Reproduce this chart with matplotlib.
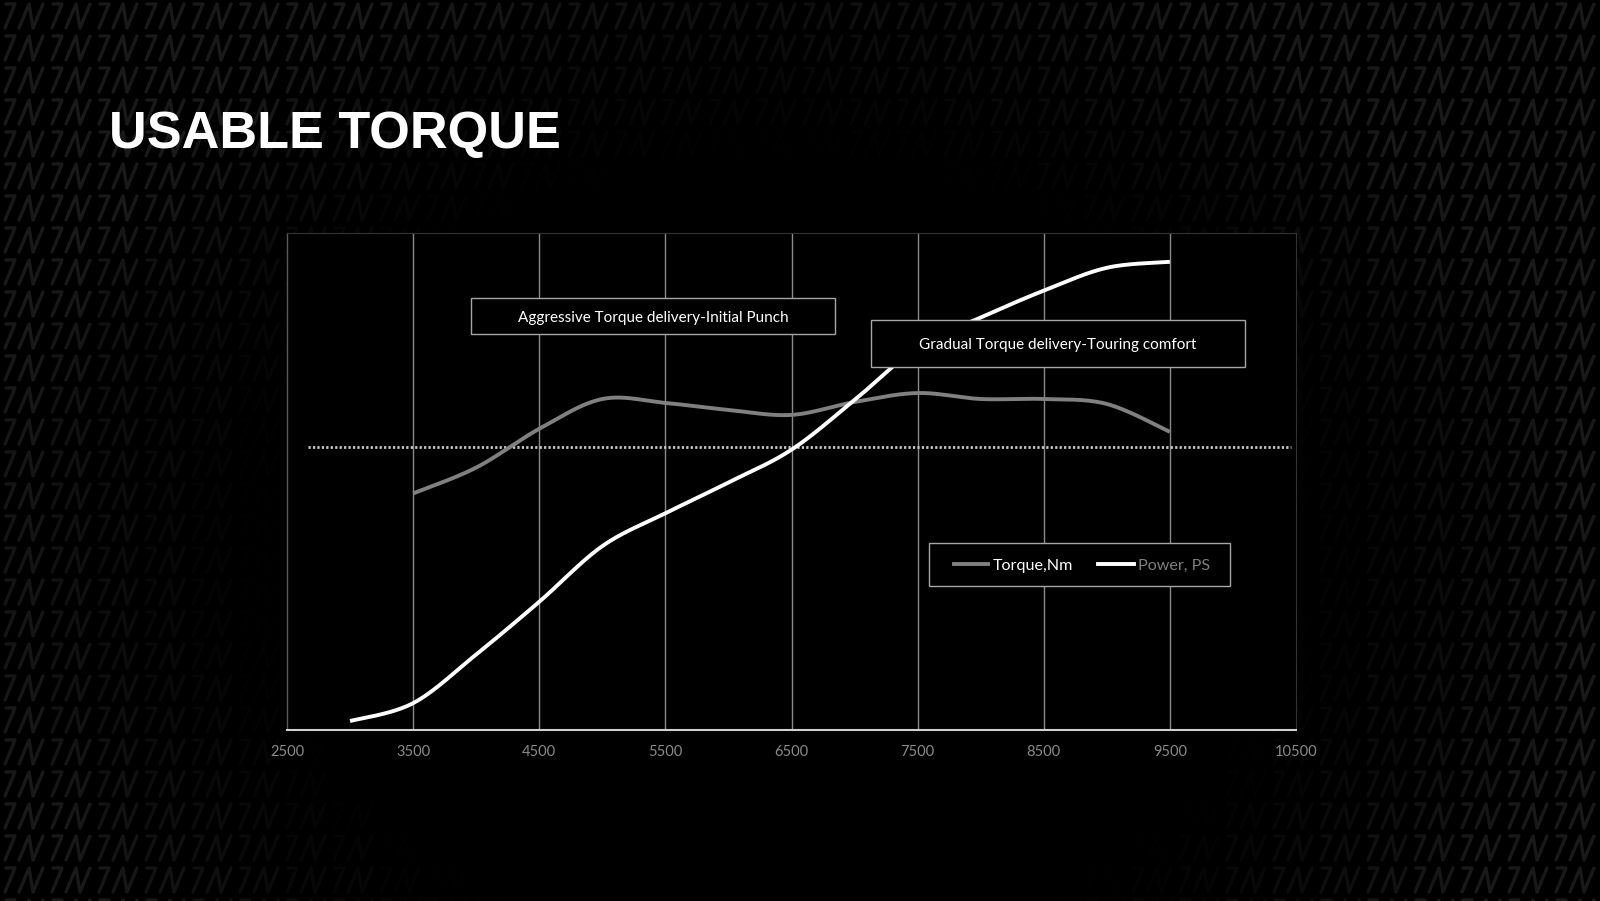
import numpy as np
import matplotlib
matplotlib.use("Agg")
import matplotlib.pyplot as plt
from matplotlib.collections import LineCollection
from matplotlib.patches import Rectangle
from matplotlib.lines import Line2D

# ---------------- data ----------------
power_rpm = [3000, 3500, 4000, 4500, 5000, 5500, 6000, 6500, 7000, 7500, 8000, 8500, 9000, 9500]
power_ps = [0.9, 2.7, 7.6, 12.9, 18.5, 21.8, 24.9, 28.2, 33.2, 38.5, 41.5, 44.2, 46.5, 47.1]

torque_rpm = [3500, 4000, 4500, 5000, 5500, 6000, 6500, 7000, 7500, 8000, 8500, 9000, 9500]
torque_nm = [23.8, 26.4, 30.3, 33.3, 32.9, 32.2, 31.7, 33.0, 33.9, 33.3, 33.3, 32.8, 30.0]

ref_level = 28.5
ref_span = [2667, 10460]

x_ticks = [2500, 3500, 4500, 5500, 6500, 7500, 8500, 9500, 10500]
x_tick_labels = ["2500", "3500", "4500", "5500", "6500", "7500", "8500", "9500", "10500"]

title = "USABLE TORQUE"
note_left = "Aggressive Torque delivery-Initial Punch"
note_right = "Gradual Torque delivery-Touring comfort"
series_names = ["Torque,Nm", "Power, PS"]

# ---------------- helpers ----------------
def smooth(x, y, n=40):
    pts = np.column_stack([np.asarray(x, float), np.asarray(y, float)])
    P = np.vstack([pts[0], pts, pts[-1]])
    out = []
    t = np.linspace(0, 1, n)[:, None]
    for i in range(len(pts) - 1):
        p0, p1, p2, p3 = P[i], P[i + 1], P[i + 2], P[i + 3]
        c1 = p1 + (p2 - p0) / 6.0
        c2 = p2 - (p3 - p1) / 6.0
        seg = (1 - t) ** 3 * p1 + 3 * (1 - t) ** 2 * t * c1 + 3 * (1 - t) * t ** 2 * c2 + t ** 3 * p2
        out.append(seg if i == 0 else seg[1:])
    s = np.vstack(out)
    return s[:, 0], s[:, 1]

W, H = 1600, 901
fig = plt.figure(figsize=(W / 100, H / 100), dpi=100, facecolor="black")

# ---------------- background pattern ----------------
bg = fig.add_axes([0, 0, 1, 1], zorder=-10)
bg.set_xlim(0, W)
bg.set_ylim(H, 0)
bg.axis("off")
bg.set_facecolor("black")
segs, cols = [], []
cw, ch, g = 47, 32, 24
for r in range(-1, 30):
    for c in range(-1, 36):
        x0 = c * cw + 2
        y0 = r * ch + 4
        cx, cy = x0 + 22, y0 + 12
        inten = ((cx - 780) / 650.0) ** 2 + ((cy - 560) / 510.0) ** 2 - 0.62
        inten = min(max(inten * 1.1, 0.0), 1.0)
        if inten <= 0:
            continue
        gv = 0.098 * inten
        top, bot = y0, y0 + g
        seven = [(x0 + 4, top), (x0 + 13, top), (x0 + 3, bot)]
        enn = [(x0 + 17, bot), (x0 + 27, top), (x0 + 31, bot), (x0 + 41, top)]
        segs.append(seven)
        segs.append(enn)
        cols.append((gv, gv, gv))
        cols.append((gv, gv, gv))
bg.add_collection(LineCollection(segs, colors=cols, linewidths=2.4, capstyle="round", joinstyle="round"))

# ---------------- main axes ----------------
L, R, T, B = 287, 1296, 233, 730
ax = fig.add_axes([L / W, 1 - B / H, (R - L) / W, (B - T) / H])
ax.set_facecolor("black")
ax.set_xlim(2500, 10500)
ax.set_ylim(0, 50)

for xv in x_ticks[1:-1]:
    ax.axvline(xv, color="#8a8a8a", lw=1.0, zorder=1)

ax.spines["bottom"].set_color("#d0d0d0")
ax.spines["bottom"].set_linewidth(1.5)
ax.spines["left"].set_color("#5a5a5a")
ax.spines["left"].set_linewidth(1.0)
ax.spines["top"].set_color("#333333")
ax.spines["right"].set_color("#333333")
ax.set_yticks([])
ax.set_xticks(x_ticks)
ax.set_xticklabels(x_tick_labels)
ax.tick_params(axis="x", length=0, pad=11, colors="#8a8a8a", labelsize=10.5)
for lab in ax.get_xticklabels():
    lab.set_family("Lato")

ax.plot(ref_span, [ref_level, ref_level], color="#c8c8c8", lw=2.0,
        linestyle=(0, (0.8, 0.8)), zorder=2)

tx, ty = smooth(torque_rpm, torque_nm)
ax.plot(tx, ty, color="#808080", lw=2.8, solid_capstyle="butt", zorder=3)
px, py = smooth(power_rpm, power_ps)
ax.plot(px, py, color="white", lw=2.8, solid_capstyle="butt", zorder=4)

def axc(xp, yp):
    return (xp - L) / (R - L), (B - yp) / (B - T)

def note_box(x0p, y0p, x1p, y1p, text):
    ax0, ay1 = axc(x0p, y0p)
    ax1, ay0 = axc(x1p, y1p)
    ax.add_patch(Rectangle((ax0, ay0), ax1 - ax0, ay1 - ay0, transform=ax.transAxes,
                           facecolor="black", edgecolor="#a6a6a6", lw=1.0, zorder=6))
    cy = axc(0, (y0p + y1p) / 2 + 2)[1]
    ax.text((ax0 + ax1) / 2, cy, text, transform=ax.transAxes, ha="center",
            va="center", color="white", fontsize=11, family="Lato", zorder=7)

note_box(471, 298, 835, 334, note_left)
note_box(871, 320, 1245, 367, note_right)

# legend (manual, matches original layout)
lx0, ly1 = axc(929, 543)
lx1, ly0 = axc(1230, 586)
ax.add_patch(Rectangle((lx0, ly0), lx1 - lx0, ly1 - ly0, transform=ax.transAxes,
                       facecolor="black", edgecolor="#a6a6a6", lw=1.0, zorder=6))
ly = axc(0, 564)[1]
lyt = axc(0, 566)[1]
ax.add_line(Line2D([axc(954, 0)[0], axc(988, 0)[0]], [ly, ly], transform=ax.transAxes,
                   color="#808080", lw=2.8, zorder=7))
ax.text(axc(993, 0)[0], lyt, series_names[0], transform=ax.transAxes, ha="left", va="center",
        color="white", fontsize=11.6, family="Lato", zorder=7)
ax.add_line(Line2D([axc(1098, 0)[0], axc(1134, 0)[0]], [ly, ly], transform=ax.transAxes,
                   color="white", lw=2.8, zorder=7))
ax.text(axc(1138, 0)[0], lyt, series_names[1], transform=ax.transAxes, ha="left", va="center",
        color="#7f7f7f", fontsize=11.6, family="Lato", zorder=7)

fig.text(109 / W, 1 - 148 / H, title, color="white", fontsize=37.6, fontweight="bold",
         family="Liberation Sans", ha="left", va="baseline")

fig.savefig("out.png", dpi=100, facecolor="black")
